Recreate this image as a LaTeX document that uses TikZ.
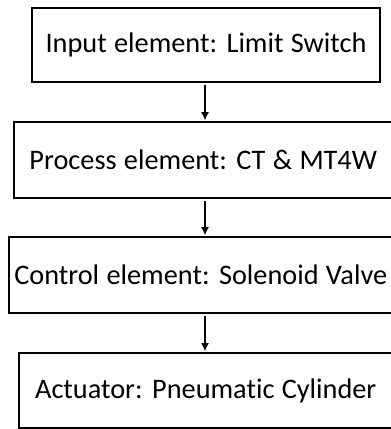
\documentclass[tikz,border=0pt]{standalone}
\usepackage{fontspec}
\setmainfont[Ligatures=NoCommon,Contextuals=NoAlternate,WordSpace=1.15]{Carlito}
\usetikzlibrary{arrows.meta}
\begin{document}
\begin{tikzpicture}[x=1pt,y=-1pt,
  blk/.style={draw=black,line width=1.6pt,rectangle,inner sep=0pt,font=\fontsize{28.3}{32}\selectfont},
  arr/.style={line width=1.4pt,-{Latex[length=8pt,width=8pt]}}]
\useasboundingbox (0,0) rectangle (391,429);
\node[blk,minimum width=348pt,minimum height=74pt] (a) at (206,45) {Input element: Limit Switch};
\node[blk,minimum width=378.5pt,minimum height=76pt] (b) at (203.25,160) {Process element: CT \& MT4W};
\node[blk,minimum width=383.5pt,minimum height=76pt] (c) at (200.75,275) {Control element: Solenoid Valve};
\node[blk,minimum width=373.5pt,minimum height=75pt] (d) at (205.75,390.5) {Actuator: Pneumatic Cylinder};
\coordinate (x) at (205,0);
\draw[arr] ([yshift=-2pt]a.south -| x) -- ([yshift=1pt]b.north -| x);
\draw[arr] ([yshift=-2pt]b.south -| x) -- ([yshift=1pt]c.north -| x);
\draw[arr] ([yshift=-2pt]c.south -| x) -- ([yshift=1pt]d.north -| x);
\end{tikzpicture}
\end{document}
